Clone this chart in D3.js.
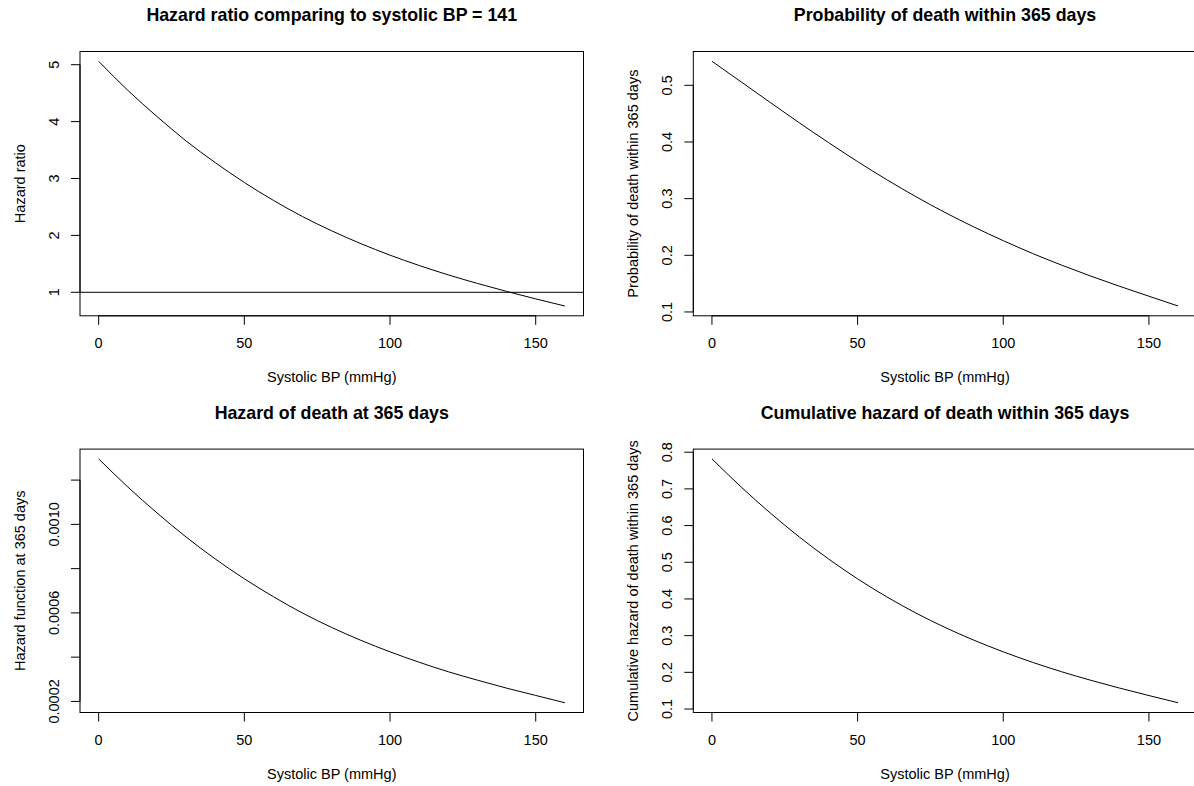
<!DOCTYPE html>
<html>
<head>
<meta charset="utf-8">
<script src="https://cdn.jsdelivr.net/npm/d3@7"></script>
<style>
  body { margin: 0; background: #fff; }
  svg { display: block; font-family: "Liberation Sans", Arial, Helvetica, sans-serif; }
</style>
</head>
<body>
<div id="chart"></div>
<script>
// Systolic BP grid (mmHg) and the four curves
const bpValues = [0, 10, 20, 30, 40, 50, 60, 70, 80, 90, 100, 110, 120, 130, 140, 150, 160];

const hazardRatio = [5.06, 4.55, 4.09, 3.66, 3.28, 2.93, 2.615, 2.33, 2.08, 1.855,
  1.653, 1.471, 1.306, 1.156, 1.016, 0.884, 0.759];

const probDeath = [0.5424, 0.5061, 0.4698, 0.4338, 0.3990, 0.3654, 0.3335, 0.3035, 0.2756,
  0.2498, 0.2258, 0.2034, 0.1827, 0.1634, 0.1452, 0.1278, 0.1105];

const hazardAt365 = [0.001296, 0.001169, 0.001052, 0.000943, 0.000844, 0.000754, 0.000673,
  0.000599, 0.000534, 0.000476, 0.000424, 0.000377, 0.000334, 0.000296, 0.000260,
  0.000227, 0.000194];

const cumHazard = [0.7819, 0.7054, 0.6345, 0.5689, 0.5092, 0.4548, 0.4058, 0.3617, 0.3224,
  0.2874, 0.2559, 0.2274, 0.2017, 0.1784, 0.1569, 0.1367, 0.1171];

// axis ticks
const xTicks = [0, 50, 100, 150];
const hrTicks = [1, 2, 3, 4, 5];
const probTicks = [0.1, 0.2, 0.3, 0.4, 0.5];
const hazardTicks = [0.0002, 0.0004, 0.0006, 0.0008, 0.0010, 0.0012];
const hazardTickLabels = ['0.0002', '', '0.0006', '', '0.0010', ''];
const cumTicks = [0.1, 0.2, 0.3, 0.4, 0.5, 0.6, 0.7, 0.8];

const xLabel = 'Systolic BP (mmHg)';

const width = 1194;
const height = 786;

const panels = [
  {
    title: 'Hazard ratio comparing to systolic BP = 141',
    yLabel: 'Hazard ratio',
    values: hazardRatio,
    ticks: hrTicks,
    tickLabels: hrTicks.map(String),
    refLine: 1,
    box: { left: 80, right: 583.5, top: 51.5, bottom: 315.8 }
  },
  {
    title: 'Probability of death within 365 days',
    yLabel: 'Probability of death within 365 days',
    values: probDeath,
    ticks: probTicks,
    tickLabels: probTicks.map(d => d.toFixed(1)),
    box: { left: 693.3, right: 1196.7, top: 51.5, bottom: 315.8 }
  },
  {
    title: 'Hazard of death at 365 days',
    yLabel: 'Hazard function at 365 days',
    values: hazardAt365,
    ticks: hazardTicks,
    tickLabels: hazardTickLabels,
    box: { left: 80, right: 583.5, top: 449.1, bottom: 712.5 }
  },
  {
    title: 'Cumulative hazard of death within 365 days',
    yLabel: 'Cumulative hazard of death within 365 days',
    values: cumHazard,
    ticks: cumTicks,
    tickLabels: cumTicks.map(d => d.toFixed(1)),
    box: { left: 693.3, right: 1196.7, top: 449.1, bottom: 712.5 }
  }
];

// R-style axis range: data extent widened by 4% on each side
function padExtent(values) {
  const [lo, hi] = d3.extent(values);
  const pad = (hi - lo) * 0.04;
  return [lo - pad, hi + pad];
}

const svg = d3.select('#chart')
  .append('svg')
  .attr('width', width)
  .attr('height', height);

svg.append('rect')
  .attr('width', width)
  .attr('height', height)
  .attr('fill', '#fff');

const tickLen = 9;

panels.forEach(p => {
  const b = p.box;
  const x = d3.scaleLinear().domain(padExtent(bpValues)).range([b.left, b.right]);
  const y = d3.scaleLinear().domain(padExtent(p.values)).range([b.bottom, b.top]);

  const g = svg.append('g');

  // plot box
  g.append('rect')
    .attr('x', b.left)
    .attr('y', b.top)
    .attr('width', b.right - b.left)
    .attr('height', b.bottom - b.top)
    .attr('fill', 'none')
    .attr('stroke', '#000')
    .attr('stroke-width', 1);

  // x axis: line from first to last tick, ticks pointing out
  const xa = g.append('g').attr('class', 'x-axis');
  xa.append('line')
    .attr('x1', x(xTicks[0])).attr('x2', x(xTicks[xTicks.length - 1]))
    .attr('y1', b.bottom).attr('y2', b.bottom)
    .attr('stroke', '#000');
  xa.selectAll('line.tick')
    .data(xTicks)
    .enter()
    .append('line')
    .attr('class', 'tick')
    .attr('x1', d => x(d)).attr('x2', d => x(d))
    .attr('y1', b.bottom).attr('y2', b.bottom + tickLen)
    .attr('stroke', '#000');
  xa.selectAll('text')
    .data(xTicks)
    .enter()
    .append('text')
    .attr('x', d => x(d))
    .attr('y', b.bottom + 32.5)
    .attr('text-anchor', 'middle')
    .attr('font-size', '14.5px')
    .attr('fill', '#000')
    .text(d => d);

  // y axis
  const ya = g.append('g').attr('class', 'y-axis');
  ya.append('line')
    .attr('x1', b.left).attr('x2', b.left)
    .attr('y1', y(p.ticks[0])).attr('y2', y(p.ticks[p.ticks.length - 1]))
    .attr('stroke', '#000');
  ya.selectAll('line.tick')
    .data(p.ticks)
    .enter()
    .append('line')
    .attr('class', 'tick')
    .attr('x1', b.left - tickLen).attr('x2', b.left)
    .attr('y1', d => y(d)).attr('y2', d => y(d))
    .attr('stroke', '#000');
  ya.selectAll('text')
    .data(p.ticks)
    .enter()
    .append('text')
    .attr('transform', d => `translate(${b.left - 21},${y(d)}) rotate(-90)`)
    .attr('text-anchor', 'middle')
    .attr('font-size', '14.5px')
    .attr('fill', '#000')
    .text((d, i) => p.tickLabels[i]);

  // reference line
  if (p.refLine !== undefined) {
    g.append('line')
      .attr('x1', b.left).attr('x2', b.right)
      .attr('y1', y(p.refLine)).attr('y2', y(p.refLine))
      .attr('stroke', '#000')
      .attr('stroke-width', 1);
  }

  // curve
  const line = d3.line()
    .x((d, i) => x(bpValues[i]))
    .y(d => y(d))
    .curve(d3.curveNatural);

  g.append('path')
    .datum(p.values)
    .attr('d', line)
    .attr('fill', 'none')
    .attr('stroke', '#000')
    .attr('stroke-width', 1);

  // labels
  const cx = (b.left + b.right) / 2;
  const cy = (b.top + b.bottom) / 2;

  g.append('text')
    .attr('x', cx)
    .attr('y', b.top - 30.5)
    .attr('text-anchor', 'middle')
    .attr('font-size', '17.8px')
    .attr('font-weight', 'bold')
    .attr('fill', '#000')
    .text(p.title);

  g.append('text')
    .attr('x', cx)
    .attr('y', b.bottom + 66.5)
    .attr('text-anchor', 'middle')
    .attr('font-size', '14.5px')
    .attr('fill', '#000')
    .text(xLabel);

  g.append('text')
    .attr('transform', `translate(${b.left - 55},${cy}) rotate(-90)`)
    .attr('text-anchor', 'middle')
    .attr('font-size', '14.5px')
    .attr('fill', '#000')
    .text(p.yLabel);
});
</script>
</body>
</html>
